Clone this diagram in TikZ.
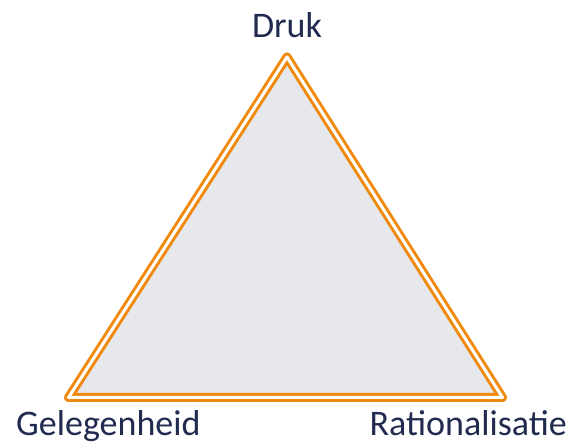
\documentclass[tikz,border=0pt]{standalone}
\usepackage{fontspec}
\setmainfont{Carlito}
\definecolor{navy}{HTML}{212A4F}
\definecolor{tri}{HTML}{F08A0E}
\definecolor{trifill}{HTML}{E7E8EC}
\begin{document}
\begin{tikzpicture}[x=1pt,y=1pt,
  lbl/.style={text=navy,font=\fontsize{36}{40}\selectfont,inner sep=0pt},
  tribox/.style={draw=tri,line width=3pt,double=white,double distance=3pt,line join=round}]
\useasboundingbox (0,0) rectangle (569,443);
\coordinate (top) at (287,386);
\coordinate (bl) at (68.5,45.5);
\coordinate (br) at (502.5,45.5);
\fill[trifill] (top) -- (bl) -- (br) -- cycle;
\draw[tribox] (top) -- (bl) -- (br) -- cycle;
\node[lbl,anchor=base] (druk) at (287,405) {Druk};
\node[lbl,anchor=base west] (gel) at (16,7.5) {Gelegenheid};
\node[lbl,anchor=base east] (rat) at (567,7.5) {Rationalisatie};
\end{tikzpicture}
\end{document}
